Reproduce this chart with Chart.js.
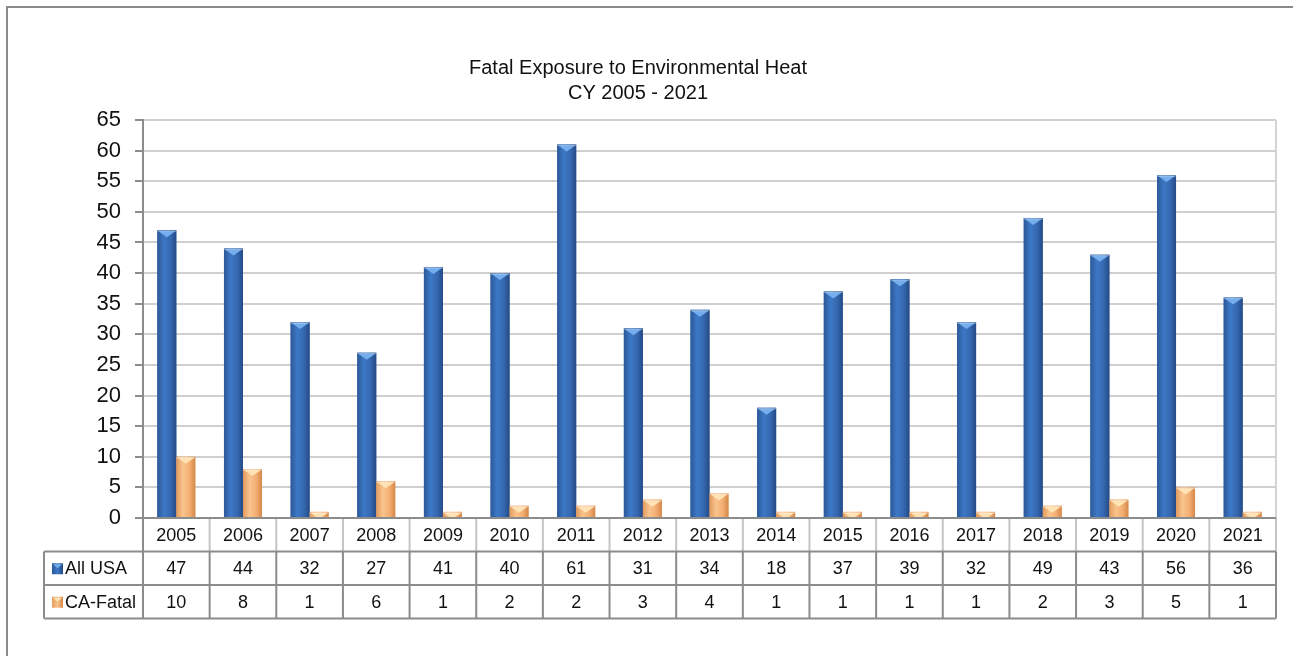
<!DOCTYPE html>
<html>
<head>
<meta charset="utf-8">
<script src="https://cdn.jsdelivr.net/npm/chart.js@4"></script>
<style>
  html, body { margin: 0; padding: 0; background: #fff; }
  #wrap { position: relative; width: 1293px; height: 656px; }
  canvas { display: block; }
</style>
</head>
<body>
<div id="wrap"><canvas id="c" width="1293" height="656"></canvas></div>
<script>
const years = ['2005','2006','2007','2008','2009','2010','2011','2012','2013','2014','2015','2016','2017','2018','2019','2020','2021'];
const allUSA = [47, 44, 32, 27, 41, 40, 61, 31, 34, 18, 37, 39, 32, 49, 43, 56, 36];
const caFatal = [10, 8, 1, 6, 1, 2, 2, 3, 4, 1, 1, 1, 1, 2, 3, 5, 1];
const seriesNames = ['All USA', 'CA-Fatal'];
const titleLines = ['Fatal Exposure to Environmental Heat', 'CY 2005 - 2021'];

const FONT = "'Liberation Sans', Arial, sans-serif";
const styles = [
  { base: '#3568B0', edgeL: '#2C5898', mid: '#3D78C6', edgeR: '#244A85', top: '#74AEEC' },
  { base: '#F3AE72', edgeL: '#E29A5C', mid: '#F9C48E', edgeR: '#D48848', top: '#FFE3B4' }
];

const framePlugin = {
  id: 'frame',
  beforeDraw(chart) {
    const ctx = chart.ctx;
    ctx.save();
    ctx.strokeStyle = '#8a8a8a';
    ctx.lineWidth = 2;
    ctx.beginPath();
    ctx.moveTo(7, 700);
    ctx.lineTo(7, 7);
    ctx.lineTo(1320, 7);
    ctx.stroke();
    ctx.restore();
  }
};

const bevelPlugin = {
  id: 'bevel',
  afterDatasetsDraw(chart) {
    const ctx = chart.ctx;
    chart.data.datasets.forEach((ds, di) => {
      const meta = chart.getDatasetMeta(di);
      const st = styles[di];
      meta.data.forEach(el => {
        const p = el.getProps(['x', 'y', 'base', 'width'], true);
        const l = p.x - p.width / 2, r = p.x + p.width / 2;
        const top = Math.min(p.y, p.base), bot = Math.max(p.y, p.base);
        const h = bot - top;
        if (h <= 0) return;
        ctx.save();
        const g = ctx.createLinearGradient(l, 0, r, 0);
        g.addColorStop(0, st.edgeL);
        g.addColorStop(0.35, st.mid);
        g.addColorStop(0.7, st.base);
        g.addColorStop(1, st.edgeR);
        ctx.fillStyle = g;
        ctx.fillRect(l, top, p.width, h);
        ctx.beginPath();
        ctx.rect(l, top, p.width, h);
        ctx.clip();
        ctx.fillStyle = st.top;
        ctx.beginPath();
        ctx.moveTo(l + 1, top + 1);
        ctx.lineTo(r - 1, top + 1);
        ctx.lineTo(p.x, top + 7);
        ctx.closePath();
        ctx.fill();
        ctx.fillStyle = 'rgba(255,255,255,0.35)';
        ctx.fillRect(l, top, p.width, 1.5);
        ctx.restore();
      });
    });
  }
};

const tablePlugin = {
  id: 'datatable',
  afterDraw(chart) {
    const ctx = chart.ctx;
    const xs = chart.scales.x;
    const area = chart.chartArea;
    const n = years.length;
    const cw = (area.right - area.left) / n;
    const rowH = 33.5;
    const y0 = area.bottom;
    const y1 = y0 + rowH, y2 = y1 + rowH, y3 = y2 + rowH;
    const labelLeft = 44;
    ctx.save();
    ctx.strokeStyle = '#c4c4c4';
    ctx.lineWidth = 2;
    for (let i = 1; i < n; i++) {
      const x = xs.getPixelForValue(i) - cw / 2;
      ctx.beginPath(); ctx.moveTo(x, y0); ctx.lineTo(x, y1); ctx.stroke();
    }
    ctx.beginPath(); ctx.moveTo(area.right, y0); ctx.lineTo(area.right, y1); ctx.stroke();
    ctx.strokeStyle = '#8c8c8c';
    ctx.lineWidth = 2;
    ctx.beginPath();
    ctx.moveTo(area.left - 8, y0); ctx.lineTo(area.right, y0);
    ctx.moveTo(labelLeft, y1); ctx.lineTo(area.right, y1);
    ctx.moveTo(labelLeft, y2); ctx.lineTo(area.right, y2);
    ctx.moveTo(labelLeft, y3); ctx.lineTo(area.right, y3);
    ctx.moveTo(labelLeft, y1); ctx.lineTo(labelLeft, y3);
    ctx.moveTo(area.left, y0); ctx.lineTo(area.left, y3);
    ctx.moveTo(area.right, y1); ctx.lineTo(area.right, y3);
    for (let i = 1; i < n; i++) {
      const x = xs.getPixelForValue(i) - cw / 2;
      ctx.moveTo(x, y1); ctx.lineTo(x, y3);
    }
    ctx.stroke();
    ctx.fillStyle = '#111';
    ctx.font = '18px ' + FONT;
    ctx.textAlign = 'center';
    ctx.textBaseline = 'middle';
    const rows = [allUSA, caFatal];
    for (let i = 0; i < n; i++) {
      const x = xs.getPixelForValue(i);
      ctx.fillText(years[i], x, y0 + rowH / 2 + 1);
      ctx.fillText(String(rows[0][i]), x, y1 + rowH / 2 + 1);
      ctx.fillText(String(rows[1][i]), x, y2 + rowH / 2 + 1);
    }
    ctx.textAlign = 'left';
    [y1, y2].forEach((yy, k) => {
      const cy = yy + rowH / 2;
      const st = styles[k];
      const g = ctx.createLinearGradient(52, 0, 63, 0);
      g.addColorStop(0, st.edgeL); g.addColorStop(0.5, st.mid); g.addColorStop(1, st.edgeR);
      ctx.fillStyle = g;
      ctx.fillRect(52, cy - 5, 11, 11);
      ctx.fillStyle = st.top;
      ctx.beginPath(); ctx.moveTo(53, cy - 4); ctx.lineTo(62, cy - 4); ctx.lineTo(57.5, cy); ctx.closePath(); ctx.fill();
      ctx.fillStyle = '#111';
      ctx.fillText(seriesNames[k], 65, cy + 1);
    });
    ctx.restore();
  }
};

new Chart(document.getElementById('c'), {
  type: 'bar',
  data: {
    labels: years,
    datasets: [
      { label: seriesNames[0], data: allUSA, backgroundColor: styles[0].base, borderWidth: 0 },
      { label: seriesNames[1], data: caFatal, backgroundColor: styles[1].base, borderWidth: 0 }
    ]
  },
  options: {
    responsive: false,
    animation: false,
    events: [],
    layout: { padding: { left: 0, right: 17, top: 0, bottom: 138 } },
    datasets: { bar: { categoryPercentage: 0.57, barPercentage: 1.0 } },
    plugins: {
      legend: { display: false },
      tooltip: { enabled: false },
      title: {
        display: true,
        text: titleLines,
        color: '#111',
        font: { family: FONT, size: 20, weight: 'normal', lineHeight: 1.25 },
        padding: { top: 56, bottom: 14 }
      }
    },
    scales: {
      x: { display: false },
      y: {
        min: 0, max: 65,
        afterFit(s) { s.width = 143; },
        ticks: { stepSize: 5, autoSkip: false, color: '#111', font: { family: FONT, size: 22 }, padding: 14 },
        grid: { color: '#cfcfcf', lineWidth: 2, tickLength: 8, tickColor: '#8c8c8c', drawTicks: true },
        border: { color: '#8c8c8c', width: 2 }
      }
    }
  },
  plugins: [framePlugin, bevelPlugin, tablePlugin,
    { id: 'rightEdge', beforeDatasetsDraw(chart) {
        const a = chart.chartArea, ctx = chart.ctx;
        ctx.save(); ctx.strokeStyle = '#d4d4d4'; ctx.lineWidth = 2;
        ctx.beginPath(); ctx.moveTo(a.right, a.top); ctx.lineTo(a.right, a.bottom); ctx.stroke(); ctx.restore();
      } }
  ]
});
</script>
</body>
</html>
